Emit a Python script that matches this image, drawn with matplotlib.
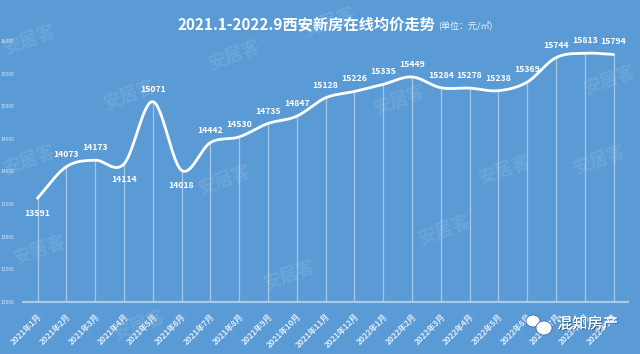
import numpy as np
import matplotlib
matplotlib.use("Agg")
import matplotlib.pyplot as plt
import matplotlib.patheffects as pe
from matplotlib.patches import Ellipse

plt.rcParams['font.family'] = ['Noto Sans CJK SC', 'DejaVu Sans']

months = ["2021年1月", "2021年2月", "2021年3月", "2021年4月", "2021年5月", "2021年6月",
          "2021年7月", "2021年8月", "2021年9月", "2021年10月", "2021年11月", "2021年12月",
          "2022年1月", "2022年2月", "2022年3月", "2022年4月", "2022年5月", "2022年6月",
          "2022年7月", "2022年8月", "2022年9月"]
prices = [13591, 14073, 14173, 14114, 15071, 14018, 14442, 14530, 14735, 14847, 15128,
          15226, 15335, 15449, 15284, 15278, 15238, 15369, 15744, 15813, 15794]
label_below = [True, False, False, True, False, True] + [False] * 15
yticks = [12000, 12500, 13000, 13500, 14000, 14500, 15000, 15500, 16000]

BG = "#5B9BD5"

def catmull_rom(x, y, n=30):
    x = np.asarray(x, float); y = np.asarray(y, float)
    px = np.concatenate([[2 * x[0] - x[1]], x, [2 * x[-1] - x[-2]]])
    py = np.concatenate([[2 * y[0] - y[1]], y, [2 * y[-1] - y[-2]]])
    xs, ys = [], []
    t = np.linspace(0, 1, n, endpoint=False)
    for i in range(1, len(px) - 2):
        p0, p1, p2, p3 = [np.array([px[j], py[j]]) for j in (i - 1, i, i + 1, i + 2)]
        t2, t3 = t * t, t * t * t
        pts = 0.5 * ((2 * p1)[:, None] + (-p0 + p2)[:, None] * t
                     + (2 * p0 - 5 * p1 + 4 * p2 - p3)[:, None] * t2
                     + (-p0 + 3 * p1 - 3 * p2 + p3)[:, None] * t3)
        xs.append(pts[0]); ys.append(pts[1])
    xs.append([x[-1]]); ys.append([y[-1]])
    return np.concatenate(xs), np.concatenate(ys)

fig = plt.figure(figsize=(6.4, 3.54), dpi=100, facecolor=BG)
ax = fig.add_axes([0.0361, 0.1469, 0.945, 0.7373], facecolor=BG)

xi = np.arange(len(prices))
ax.set_xlim(-0.5, len(prices) - 0.5)
ax.set_ylim(12000, 16000)

# drop lines
ax.vlines(xi, 12000, prices, colors="white", alpha=0.45, linewidth=0.9, zorder=2)

sx, sy = catmull_rom(xi, prices)
ax.plot(sx, sy, color="white", linewidth=2.0, zorder=3, solid_capstyle="round")

for x, v, below in zip(xi, prices, label_below):
    off = -11 if below else 9
    ax.annotate(str(v), (x, v), xytext=(0, off), textcoords="offset points",
                ha="center", va="center", color="white", fontsize=6.3,
                fontweight="bold", zorder=5)

for s in ["top", "right", "left"]:
    ax.spines[s].set_visible(False)
ax.spines["bottom"].set_color("#A9CBEA")
ax.spines["bottom"].set_linewidth(1.5)

ax.set_yticks(yticks)
ax.set_yticklabels([str(t) for t in yticks], fontsize=3.6, color="white", alpha=0.75)
ax.tick_params(axis="y", length=0, pad=6)
ax.set_xticks(xi)
ax.set_xticklabels(months, rotation=45, ha="right", va="top", rotation_mode="anchor",
                   fontsize=5.8, color="white", alpha=0.8, fontweight="bold")
ax.tick_params(axis="x", length=0, pad=7)

fig.text(177 / 640, 1 - 24 / 354, "2021.1-2022.9西安新房在线均价走势", ha="left", va="center",
         fontsize=11, fontweight="bold", color="white")
fig.text(438 / 640, 1 - 26 / 354, "(单位：元/㎡)", ha="left", va="center",
         fontsize=6.5, color="white", alpha=0.9)

# watermarks
wm = [(30, 40), (235, 55), (130, 95), (400, 100), (30, 160), (600, 160), (225, 180),
      (505, 170), (40, 250), (290, 275), (445, 230), (140, 325), (330, 22), (610, 80)]
for (px, py) in wm:
    fig.text(px / 640, 1 - py / 354, "安居客", ha="center", va="center", fontsize=13,
             fontweight="bold", color="white", alpha=0.10, rotation=20)

# wechat style logo and brand
fig.patches.append(Ellipse((533 / 640, 1 - 321 / 354), 14 / 640, 12 / 354,
                           transform=fig.transFigure, facecolor="white",
                           edgecolor="#3a6fa0", linewidth=0.6, zorder=10))
fig.patches.append(Ellipse((544 / 640, 1 - 328 / 354), 16 / 640, 14 / 354,
                           transform=fig.transFigure, facecolor="white",
                           edgecolor="#3a6fa0", linewidth=0.6, zorder=11))
fig.text(557 / 640, 1 - 324 / 354, "混知房产", ha="left", va="center", fontsize=11,
         color="white", zorder=12,
         path_effects=[pe.withSimplePatchShadow(offset=(0.7, -0.7), shadow_rgbFace="#1f3f60",
                                                alpha=0.7), pe.Normal()])

fig.savefig("out.png", dpi=100, facecolor=BG)
